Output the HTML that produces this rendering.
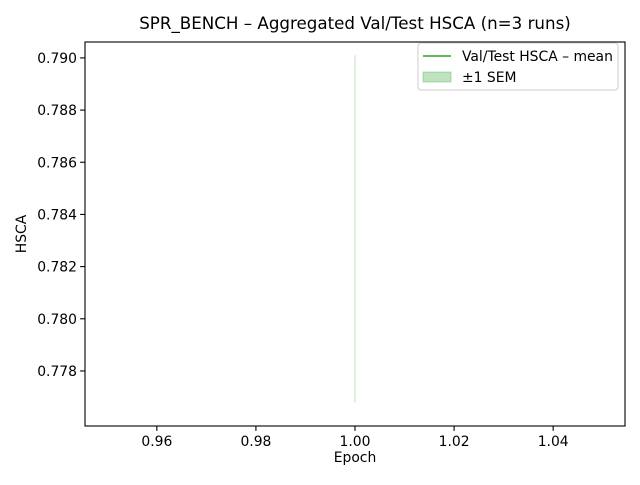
<!DOCTYPE html>
<html><head><meta charset="utf-8"><style>
body{margin:0;background:#fff;}
svg text{font-family:"DejaVu Sans","Liberation Sans",sans-serif;}
</style></head><body>
<svg width="640" height="480">
<g id="plot"></g>
</svg>
<script>
const epochs=[1];
const meanVals=[0.78345];
const semLower=[0.7768];
const semUpper=[0.7901];
const xTicks=[0.96,0.98,1.00,1.02,1.04];
const yTicks=[0.778,0.780,0.782,0.784,0.786,0.788,0.790];
const L=85,R=625,T=42,B=426;
const xMin=0.9455,xMax=1.0545,yMin=0.77589,yMax=0.79061;
const xs=v=>L+(v-xMin)/(xMax-xMin)*(R-L);
const ys=v=>B-(v-yMin)/(yMax-yMin)*(B-T);
const NS="http://www.w3.org/2000/svg";
const g=document.getElementById('plot');
function mk(t,a,txt){const e=document.createElementNS(NS,t);for(const k in a)e.setAttribute(k,a[k]);if(txt!==undefined)e.textContent=txt;g.appendChild(e);return e;}
for(let i=0;i<epochs.length;i++){
 const b=mk('rect',{x:xs(epochs[i])-0.5,y:ys(semUpper[i]),width:1,height:ys(semLower[i])-ys(semUpper[i]),fill:'#2ca02c','fill-opacity':0.3});
 
 
}
const pts=epochs.map((e,i)=>xs(e)+','+ys(meanVals[i])).join(' ');
const ln=mk('polyline',{points:pts,fill:'none',stroke:'#2ca02c','stroke-width':1.5});


const fr=mk('rect',{x:L,y:T,width:R-L,height:B-T,fill:'none',stroke:'#000','stroke-width':1.1});


xTicks.forEach(v=>{const x=xs(v);mk('line',{x1:x,x2:x,y1:B,y2:B+4.9,stroke:'#000','stroke-width':1.1});
 const t=mk('text',{x:x,y:B+20,'text-anchor':'middle','font-size':13.9},v.toFixed(2));
 
 });
yTicks.forEach(v=>{const y=ys(v);mk('line',{x1:L-4.9,x2:L,y1:y,y2:y,stroke:'#000','stroke-width':1.1});
 const t=mk('text',{x:L-8,y:y+5,'text-anchor':'end','font-size':13.9},v.toFixed(3));
 
 });
let t=mk('text',{x:(L+R)/2,y:462,'text-anchor':'middle','font-size':13.9},'Epoch');

t=mk('text',{x:26,y:(T+B)/2,'text-anchor':'middle','font-size':13.9,transform:`rotate(-90 26 ${(T+B)/2})`},'HSCA');

t=mk('text',{x:(L+R)/2,y:29,'text-anchor':'middle','font-size':16.7},'SPR_BENCH – Aggregated Val/Test HSCA (n=3 runs)');

const lg=mk('rect',{x:418,y:43,width:200,height:47,rx:3,fill:'#fff',stroke:'#ccc','stroke-width':1});

mk('line',{x1:423,x2:451,y1:56,y2:56,stroke:'#2ca02c','stroke-width':1.5});
t=mk('text',{x:462,y:61,'font-size':13.9},'Val/Test HSCA – mean');

mk('rect',{x:423,y:72,width:28,height:10,fill:'#2ca02c','fill-opacity':0.3,stroke:'#2ca02c','stroke-opacity':0.3});
t=mk('text',{x:462,y:82,'font-size':13.9},'±1 SEM');

</script>
</body></html>
